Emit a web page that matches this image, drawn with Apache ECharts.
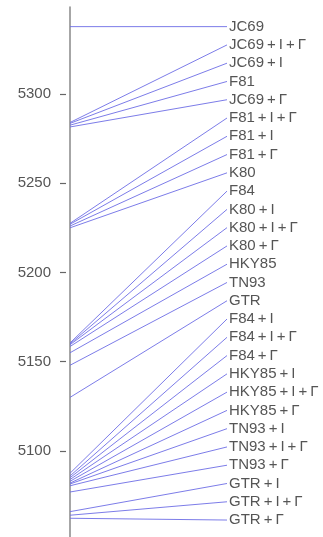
<!DOCTYPE html>
<html>
<head>
<meta charset="utf-8">
<script src="https://cdn.jsdelivr.net/npm/echarts@6/dist/echarts.min.js"></script>
<style>html,body{margin:0;padding:0;background:#fff}#c{width:323px;height:537px}</style>
</head>
<body>
<div id="c"></div>
<script>
// Models in label order (top to bottom)
const models = ["JC69","JC69+I+Γ","JC69+I","F81","JC69+Γ","F81+I+Γ","F81+I","F81+Γ","K80",
  "F84","K80+I","K80+I+Γ","K80+Γ","HKY85","TN93","GTR","F84+I","F84+I+Γ","F84+Γ",
  "HKY85+I","HKY85+I+Γ","HKY85+Γ","TN93+I","TN93+I+Γ","TN93+Γ","GTR+I","GTR+I+Γ","GTR+Γ"];
// -lnL values
const scores = [5337.7,5284,5283.5,5282.5,5281.5,5227.5,5227,5226,5225,
  5160.5,5160,5159.5,5158.5,5155,5148,5130,5087.5,5086,5085,
  5084,5083,5082,5081.5,5080.5,5077,5066,5064,5062.3];
const tickValues = [5100,5150,5200,5250,5300];

// label slots on the right: evenly spaced between first and last value
const slotTop = 5337.7, slotBottom = 5061.3;
const step = (slotTop - slotBottom) / (models.length - 1);

const lineColor = '#6e6ee6';
const series = models.map((m, i) => ({
  name: m,
  type: 'line',
  symbol: 'none',
  silent: true,
  lineStyle: {color: lineColor, width: 1, opacity: 0.9},
  data: [[0, scores[i]], [1, slotTop - i * step]],
  endLabel: {
    show: true, distance: 2, color: '#555', fontSize: 15,
    fontFamily: 'Liberation Sans',
    formatter: p => p.seriesName.split('+').join('\u2009+\u2009')
  }
}));

const yMax = 5348.7, yMin = 5051.8;
const chart = echarts.init(document.getElementById('c'), null, {renderer: 'canvas'});
chart.setOption({
  animation: false,
  grid: {left: 70, right: 96, top: 7, bottom: 0},
  xAxis: {type: 'value', min: 0, max: 1, show: false},
  yAxis: [
    {type: 'value', min: yMin, max: yMax, position: 'left',
     axisLine: {show: true, lineStyle: {color: '#888', width: 1.5}},
     axisTick: {show: false}, axisLabel: {show: false}, splitLine: {show: false}},
    {type: 'value', min: yMin, max: yMax, position: 'left', offset: 4,
     axisLine: {show: false},
     axisTick: {show: true, length: 6, customValues: tickValues, lineStyle: {color: '#666', width: 1.2}},
     axisLabel: {show: true, customValues: tickValues, color: '#555', fontSize: 15,
       fontFamily: 'Liberation Sans', margin: 15, formatter: v => String(v)},
     splitLine: {show: false}}
  ],
  series: series
});
</script>
</body>
</html>
